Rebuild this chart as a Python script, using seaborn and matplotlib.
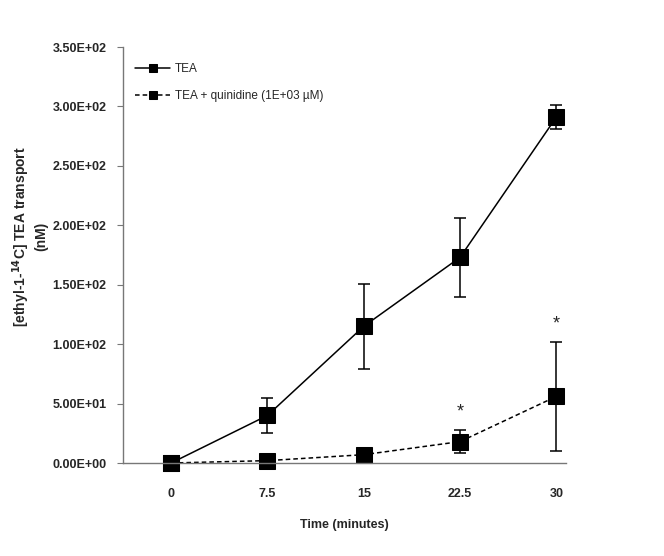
"""
Purpose:
    TEA transport time course, with and without quinidine
"""

# %% ---- Requirements and constants ----
import numpy as np
import pandas as pd
import seaborn as sns
import matplotlib.pyplot as plt
from matplotlib.ticker import FixedLocator, FuncFormatter

time_labels = ['0', '7.5', '15', '22.5', '30']
tea_mean = [0, 40, 115, 173, 291]
tea_err = [0, 15, 36, 33, 10]
qui_mean = [0, 2, 7, 18, 56]
qui_err = [0, 0, 0, 10, 46]
star_idx = [3, 4]   # significant points (quinidine)

sns.set_style('white')
plt.rcParams['font.family'] = ['Liberation Sans', 'DejaVu Sans']

# %% ---- Build data ----
df = pd.DataFrame({
    'time': time_labels * 2,
    'value': tea_mean + qui_mean,
    'err': tea_err + qui_err,
    'group': ['TEA'] * 5 + ['TEA + quinidine (1E+03 µM)'] * 5,
})

# %% ---- Plot ----
fig = plt.figure(figsize=(6.64, 5.56), dpi=100)
ax = fig.add_axes([123 / 664, 93 / 556, (566 - 123) / 664, (463 - 47) / 556])

sns.lineplot(
    data=df, x='time', y='value', style='group', sort=False,
    dashes={'TEA': '', 'TEA + quinidine (1E+03 µM)': (3, 2)},
    markers={'TEA': 's', 'TEA + quinidine (1E+03 µM)': 's'},
    color='black', markersize=11, markeredgecolor='black',
    linewidth=1.1, ax=ax)
for line in ax.lines:
    line.set_clip_on(False)

for name, sub in df.groupby('group'):
    keep = sub['err'] > 0
    ax.errorbar(sub['time'][keep], sub['value'][keep], yerr=sub['err'][keep],
                fmt='none', ecolor='black', elinewidth=1.1, capsize=4,
                capthick=1.1, zorder=1)

for i in star_idx:
    ax.text(i, qui_mean[i] + qui_err[i] + 8, '*', ha='center', va='bottom',
            fontsize=13)

ax.set_xlim(-0.5, 4.1)
ax.set_ylim(0, 350)
ax.set_yticks(np.arange(0, 351, 50))
ax.yaxis.set_major_formatter(FuncFormatter(lambda v, p: f'{v:.2E}'))
ax.xaxis.set_minor_locator(FixedLocator([-0.5, 0.5, 1.5, 2.5, 3.5]))
ax.tick_params(axis='x', which='major', length=0, pad=18)
ax.tick_params(axis='x', which='minor', length=4, width=0.8, direction='out',
               color='#777777')
ax.tick_params(axis='y', length=4, width=0.8, direction='out',
               color='#777777', left=True, pad=8)
for lab in ax.get_xticklabels() + ax.get_yticklabels():
    lab.set_fontsize(9)
    lab.set_fontweight('bold')

for s in ['top', 'right']:
    ax.spines[s].set_visible(False)
for s in ['left', 'bottom']:
    ax.spines[s].set_color('#777777')
    ax.spines[s].set_linewidth(1.0)

ax.set_xlabel('Time (minutes)', fontsize=9, fontweight='bold', labelpad=14)
ax.set_ylabel('[ethyl-1-$^{\\mathbf{14}}$C] TEA transport\n(nM)', fontsize=10,
              fontweight='bold')
ax.yaxis.set_label_coords(-0.168, 0.545)

leg = ax.legend(loc='upper left', bbox_to_anchor=(0.0, 0.99), frameon=False,
                fontsize=8.5, handlelength=3.0, handletextpad=0.4,
                labelspacing=1.3, borderaxespad=0.6)
for h in leg.legend_handles:
    h.set_markersize(6)
ax.set_facecolor('white')
fig.patch.set_facecolor('white')

fig.savefig('out.png', dpi=100)
